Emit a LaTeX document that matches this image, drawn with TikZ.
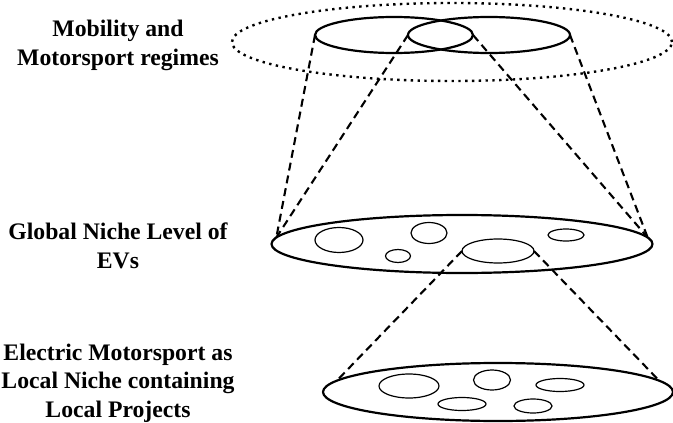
\documentclass[tikz,border=0pt]{standalone}
\usepackage{fontspec}
\setmainfont{Liberation Serif}
\usetikzlibrary{shapes.geometric}
\begin{document}
\begin{tikzpicture}[x=1pt,y=-1pt,
  lbl/.style={font=\fontsize{23.7}{28.5}\selectfont\bfseries, align=center, inner sep=0pt, anchor=base},
  bigell/.style={draw, ellipse, line width=2.2pt, inner sep=0pt, outer sep=0pt},
  smallell/.style={draw, ellipse, line width=1.2pt, inner sep=0pt, outer sep=0pt},
  dotell/.style={draw, ellipse, line width=2.4pt, inner sep=0pt, outer sep=0pt, line cap=butt, dash pattern=on 2.4pt off 4.4pt},
  dashline/.style={line width=2.1pt, dash pattern=on 8pt off 5pt},
]
\useasboundingbox (0,0) rectangle (673,423);
% regime level
\node[dotell, minimum width=440pt, minimum height=78pt] (regime) at (452,42) {};
\node[bigell, minimum width=158pt, minimum height=36pt] (reg1) at (394,35) {};
\node[bigell, minimum width=162pt, minimum height=36pt] (reg2) at (489,35) {};
% global niche
\node[bigell, minimum width=381pt, minimum height=58pt] (glob) at (462,244) {};
\node[smallell, minimum width=48pt, minimum height=25pt] (g1) at (339,240) {};
\node[smallell, minimum width=36pt, minimum height=21pt] (g2) at (429,233) {};
\node[smallell, minimum width=25pt, minimum height=13pt] (g3) at (398,256) {};
\node[smallell, minimum width=72pt, minimum height=24pt] (g4) at (498,251) {};
\node[smallell, minimum width=36pt, minimum height=12pt] (g5) at (566,235) {};
% local niche
\node[bigell, minimum width=350pt, minimum height=58pt] (loc) at (498,392) {};
\node[smallell, minimum width=60pt, minimum height=24pt] (l1) at (409,386) {};
\node[smallell, minimum width=37pt, minimum height=20pt] (l2) at (492,380) {};
\node[smallell, minimum width=48pt, minimum height=13pt] (l3) at (560,385) {};
\node[smallell, minimum width=48pt, minimum height=13pt] (l4) at (462,404) {};
\node[smallell, minimum width=38pt, minimum height=14pt] (l5) at (533,406) {};
% connectors
\draw[dashline] (reg1.west) -- (glob.178);
\draw[dashline] (reg2.west) -- (glob.178);
\draw[dashline] (reg1.east) -- (glob.2);
\draw[dashline] (reg2.east) -- (glob.2);
\draw[dashline] (g4.west) -- (loc.176);
\draw[dashline] (g4.east) -- (loc.4);
% labels
\node[lbl] (t1) at (118,65) {Mobility and\\Motorsport regimes};
\node[lbl] (t2) at (118,268) {Global Niche Level of\\EVs};
\node[lbl] (t3) at (118,417) {Electric Motorsport as\\Local Niche containing\\Local Projects};
\end{tikzpicture}
\end{document}
